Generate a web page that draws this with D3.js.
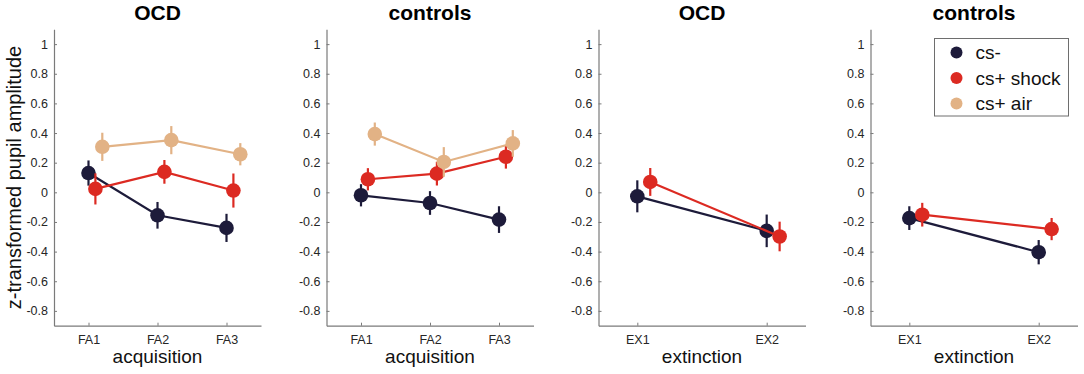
<!DOCTYPE html>
<html>
<head>
<meta charset="utf-8">
<script src="https://cdn.jsdelivr.net/npm/d3@7"></script>
<style>
  body { margin: 0; background: #fff; }
  svg { display: block; font-family: "Liberation Sans", Arial, sans-serif; }
</style>
</head>
<body>
<div id="chart"></div>
<script>
// panel titles / x categories
const panelTitles = ['OCD', 'controls', 'OCD', 'controls']
const phaseLabels = ['acquisition', 'acquisition', 'extinction', 'extinction']
const acqLabels = ['FA1', 'FA2', 'FA3']
const extLabels = ['EX1', 'EX2']
const yTicks = [-0.8, -0.6, -0.4, -0.2, 0, 0.2, 0.4, 0.6, 0.8, 1]

const seriesNames = ['cs-', 'cs+ shock', 'cs+ air']
const seriesColors = ['#1d1b3a', '#dc2a22', '#e2b285']

// OCD, acquisition
const ocdAcqMinus = [0.13, -0.155, -0.24]
const ocdAcqMinusErr = [0.085, 0.09, 0.095]
const ocdAcqShock = [0.023, 0.138, 0.012]
const ocdAcqShockErr = [0.105, 0.08, 0.115]
const ocdAcqAir = [0.307, 0.352, 0.257]
const ocdAcqAirErr = [0.095, 0.095, 0.075]

// controls, acquisition
const ctlAcqMinus = [-0.02, -0.072, -0.184]
const ctlAcqMinusErr = [0.075, 0.08, 0.09]
const ctlAcqShock = [0.088, 0.126, 0.24]
const ctlAcqShockErr = [0.075, 0.08, 0.08]
const ctlAcqAir = [0.393, 0.205, 0.33]
const ctlAcqAirErr = [0.078, 0.1, 0.09]

// OCD, extinction
const ocdExtMinus = [-0.027, -0.26]
const ocdExtMinusErr = [0.108, 0.11]
const ocdExtShock = [0.07, -0.298]
const ocdExtShockErr = [0.094, 0.1]

// controls, extinction
const ctlExtMinus = [-0.174, -0.404]
const ctlExtMinusErr = [0.08, 0.082]
const ctlExtShock = [-0.151, -0.248]
const ctlExtShockErr = [0.08, 0.075]

const panels = [
  { cats: acqLabels, series: [[ocdAcqMinus, ocdAcqMinusErr], [ocdAcqShock, ocdAcqShockErr], [ocdAcqAir, ocdAcqAirErr]] },
  { cats: acqLabels, series: [[ctlAcqMinus, ctlAcqMinusErr], [ctlAcqShock, ctlAcqShockErr], [ctlAcqAir, ctlAcqAirErr]] },
  { cats: extLabels, series: [[ocdExtMinus, ocdExtMinusErr], [ocdExtShock, ocdExtShockErr]] },
  { cats: extLabels, series: [[ctlExtMinus, ctlExtMinusErr], [ctlExtShock, ctlExtShockErr]] }
]

const W = 1084, H = 374
const panelLeft = [54, 326.5, 598.5, 870.5]
const panelW = 207
const plotTop = 29.3, plotBottom = 325.7
const axisColor = '#7a7a7a'
const textColor = '#262626'

const svg = d3.select('#chart').append('svg')
  .attr('width', W)
  .attr('height', H)

const y = d3.scaleLinear().domain([-0.9, 1.1]).range([plotBottom, plotTop])

panels.forEach((p, pi) => {
  const n = p.cats.length
  // acquisition panels span 0.5..3.5, extinction 0.7..2.3
  const xDomain = n === 3 ? [0.5, 3.5] : [0.7, 2.3]
  const x = d3.scaleLinear().domain(xDomain).range([0, panelW])

  const g = svg.append('g')
    .attr('transform', `translate(${panelLeft[pi]},0)`)

  // axes (matlab style, inward ticks)
  const yAxis = d3.axisLeft(y)
    .tickValues(yTicks)
    .tickFormat(d => String(+d.toFixed(1)))
    .tickSizeInner(-3)
    .tickSizeOuter(0)
    .tickPadding(6)

  const xAxis = d3.axisBottom(x)
    .tickValues(d3.range(1, n + 1))
    .tickFormat((d, i) => p.cats[i])
    .tickSizeInner(-3)
    .tickSizeOuter(0)
    .tickPadding(9)

  const ya = g.append('g').call(yAxis)
  const xa = g.append('g').attr('transform', `translate(0,${plotBottom})`).call(xAxis)

  ;[ya, xa].forEach(a => {
    a.select('.domain').attr('stroke', axisColor).attr('stroke-width', 1.2)
    a.selectAll('.tick line').attr('stroke', axisColor)
    a.selectAll('.tick text')
      .attr('fill', textColor)
      .style('font-size', '12.5px')
      .style('font-family', '"Liberation Sans", Arial, sans-serif')
  })

  // title
  g.append('text')
    .attr('x', panelW / 2)
    .attr('y', 20)
    .attr('text-anchor', 'middle')
    .style('font-size', '21px')
    .style('font-weight', 'bold')
    .attr('fill', '#000')
    .text(panelTitles[pi])

  // x label
  g.append('text')
    .attr('x', panelW / 2)
    .attr('y', 363)
    .attr('text-anchor', 'middle')
    .style('font-size', '19px')
    .attr('fill', '#111')
    .text(phaseLabels[pi])

  // series: line, error bars, markers (each series drawn in order)
  p.series.forEach(([vals, errs], si) => {
    const color = seriesColors[si]
    const off = si * 0.1
    const pts = vals.map((v, i) => ({ x: i + 1 + off, v, e: errs[i] }))
    const s = g.append('g')

    s.append('path')
      .datum(pts)
      .attr('fill', 'none')
      .attr('stroke', color)
      .attr('stroke-width', 2.2)
      .attr('d', d3.line().x(d => x(d.x)).y(d => y(d.v)))

    s.selectAll('line.err')
      .data(pts)
      .enter()
      .append('line')
      .attr('class', 'err')
      .attr('x1', d => x(d.x))
      .attr('x2', d => x(d.x))
      .attr('y1', d => y(d.v - d.e))
      .attr('y2', d => y(d.v + d.e))
      .attr('stroke', color)
      .attr('stroke-width', 2.2)

    s.selectAll('circle')
      .data(pts)
      .enter()
      .append('circle')
      .attr('cx', d => x(d.x))
      .attr('cy', d => y(d.v))
      .attr('r', 7.3)
      .attr('fill', color)
  })
})

// y axis label
svg.append('text')
  .attr('transform', 'translate(21,177.5) rotate(-90)')
  .attr('text-anchor', 'middle')
  .style('font-size', '20px')
  .attr('fill', '#111')
  .text('z-transformed pupil amplitude')

// legend
const lg = svg.append('g').attr('transform', 'translate(934.5,38.5)')
lg.append('rect')
  .attr('width', 134)
  .attr('height', 77.5)
  .attr('fill', '#fff')
  .attr('stroke', '#6e6e6e')
  .attr('stroke-width', 1)

seriesNames.forEach((name, i) => {
  const ly = 14 + i * 25.5
  lg.append('circle')
    .attr('cx', 22)
    .attr('cy', ly)
    .attr('r', 6)
    .attr('fill', seriesColors[i])
  lg.append('text')
    .attr('x', 41)
    .attr('y', ly)
    .attr('dy', '0.35em')
    .style('font-size', '19px')
    .attr('fill', '#111')
    .text(name)
})
</script>
</body>
</html>
